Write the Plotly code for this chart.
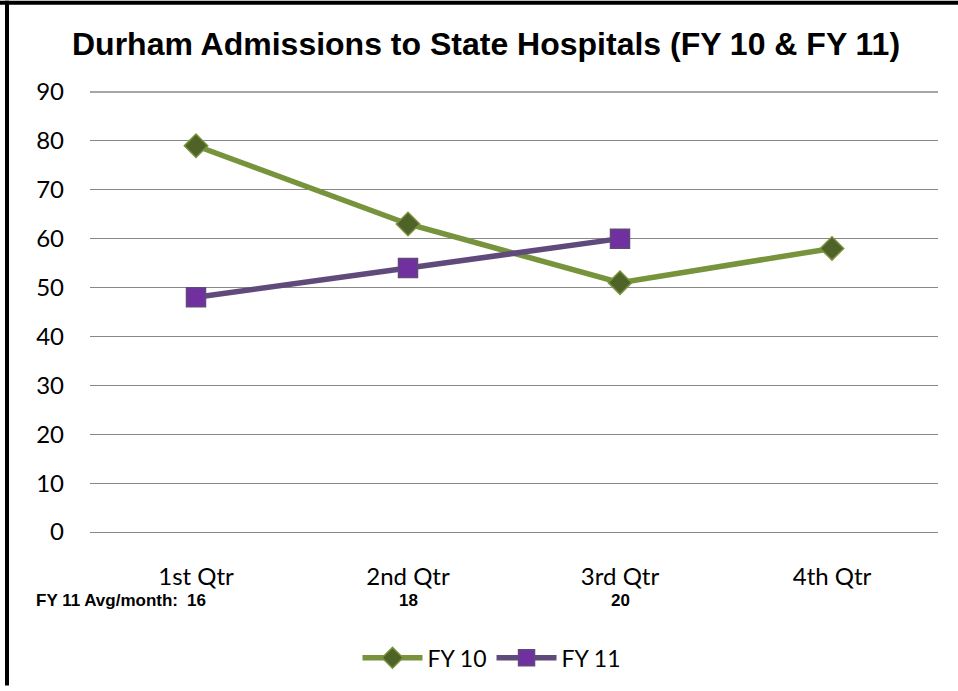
import plotly.graph_objects as go

categories = ["1st Qtr", "2nd Qtr", "3rd Qtr", "4th Qtr"]
fy10 = [79, 63, 51, 58]
fy11 = [48, 54, 60, None]
fy11_avg_month = [16, 18, 20]
y_ticks = [0, 10, 20, 30, 40, 50, 60, 70, 80, 90]

W, H = 958, 691
L, R, T, B = 90, 20, 91, 155
pw, ph = W - L - R, H - T - B

def px_x(px):
    return (px - L) / pw

def px_y(py):
    return (H - B - py) / ph

fig = go.Figure()
fig.add_trace(go.Scatter(
    x=categories, y=fy10, name="FY 10", mode="lines+markers",
    line=dict(color="#77933C", width=5.5),
    marker=dict(symbol="diamond", size=18, color="#4F6228",
                line=dict(color="#77933C", width=1.5)),
))
fig.add_trace(go.Scatter(
    x=categories, y=fy11, name="FY 11", mode="lines+markers",
    line=dict(color="#604A7B", width=5.5),
    marker=dict(symbol="square", size=19, color="#7030A0",
                line=dict(color="#604A7B", width=1.5)),
))

annot_font = dict(family="Liberation Sans", size=17, color="#000000")
annotations = [dict(
    text="<b>FY 11 Avg/month:</b>", xref="paper", yref="paper",
    x=px_x(180), y=px_y(605), xanchor="right", yanchor="middle",
    showarrow=False, font=annot_font,
)]
for cat, v in zip(categories, fy11_avg_month):
    annotations.append(dict(
        text=f"<b>{v}</b>", x=cat, xref="x", yref="paper", y=px_y(605),
        xanchor="center", yanchor="middle", showarrow=False, font=annot_font,
    ))

shapes = [
    dict(type="line", xref="paper", yref="paper", x0=px_x(0), x1=px_x(W),
         y0=px_y(2), y1=px_y(2), line=dict(color="#000000", width=4)),
    dict(type="line", xref="paper", yref="paper", x0=px_x(7), x1=px_x(7),
         y0=px_y(0), y1=px_y(H), line=dict(color="#000000", width=4)),
    dict(type="line", xref="paper", yref="y", x0=0, x1=1,
         y0=y_ticks[-1], y1=y_ticks[-1], layer="below",
         line=dict(color="#888888", width=1.3)),
]

fig.update_layout(
    width=W, height=H,
    margin=dict(l=L, r=R, t=T, b=B),
    paper_bgcolor="white", plot_bgcolor="white",
    title=dict(
        text="<b>Durham Admissions to State Hospitals (FY 10 & FY 11)</b>",
        x=px_x(486), xref="paper", xanchor="center",
        y=1 - 44 / H, yref="container", yanchor="middle",
        font=dict(family="Liberation Sans", size=32, color="#000000"),
    ),
    xaxis=dict(
        type="category", range=[-0.5, 3.5], showgrid=False, zeroline=False,
        showline=False, ticks="", ticklabelstandoff=28,
        tickfont=dict(family="Lato", size=24, color="#000000"),
    ),
    yaxis=dict(
        range=[0, 90.2], tickvals=y_ticks, showgrid=True, gridcolor="#888888",
        gridwidth=1.3, zeroline=True, zerolinecolor="#888888", zerolinewidth=1.3,
        showline=False, ticks="", ticklabelstandoff=25,
        tickfont=dict(family="Lato", size=24, color="#000000"),
    ),
    showlegend=True,
    legend=dict(
        orientation="h", x=px_x(492), xanchor="center", y=px_y(663), yanchor="middle",
        font=dict(family="Lato", size=23, color="#000000"),
        itemwidth=60, tracegroupgap=0,
    ),
    annotations=annotations,
    shapes=shapes,
)

fig.write_html("out.html", config={"displayModeBar": False},
               post_script="document.body.style.margin='0';")
